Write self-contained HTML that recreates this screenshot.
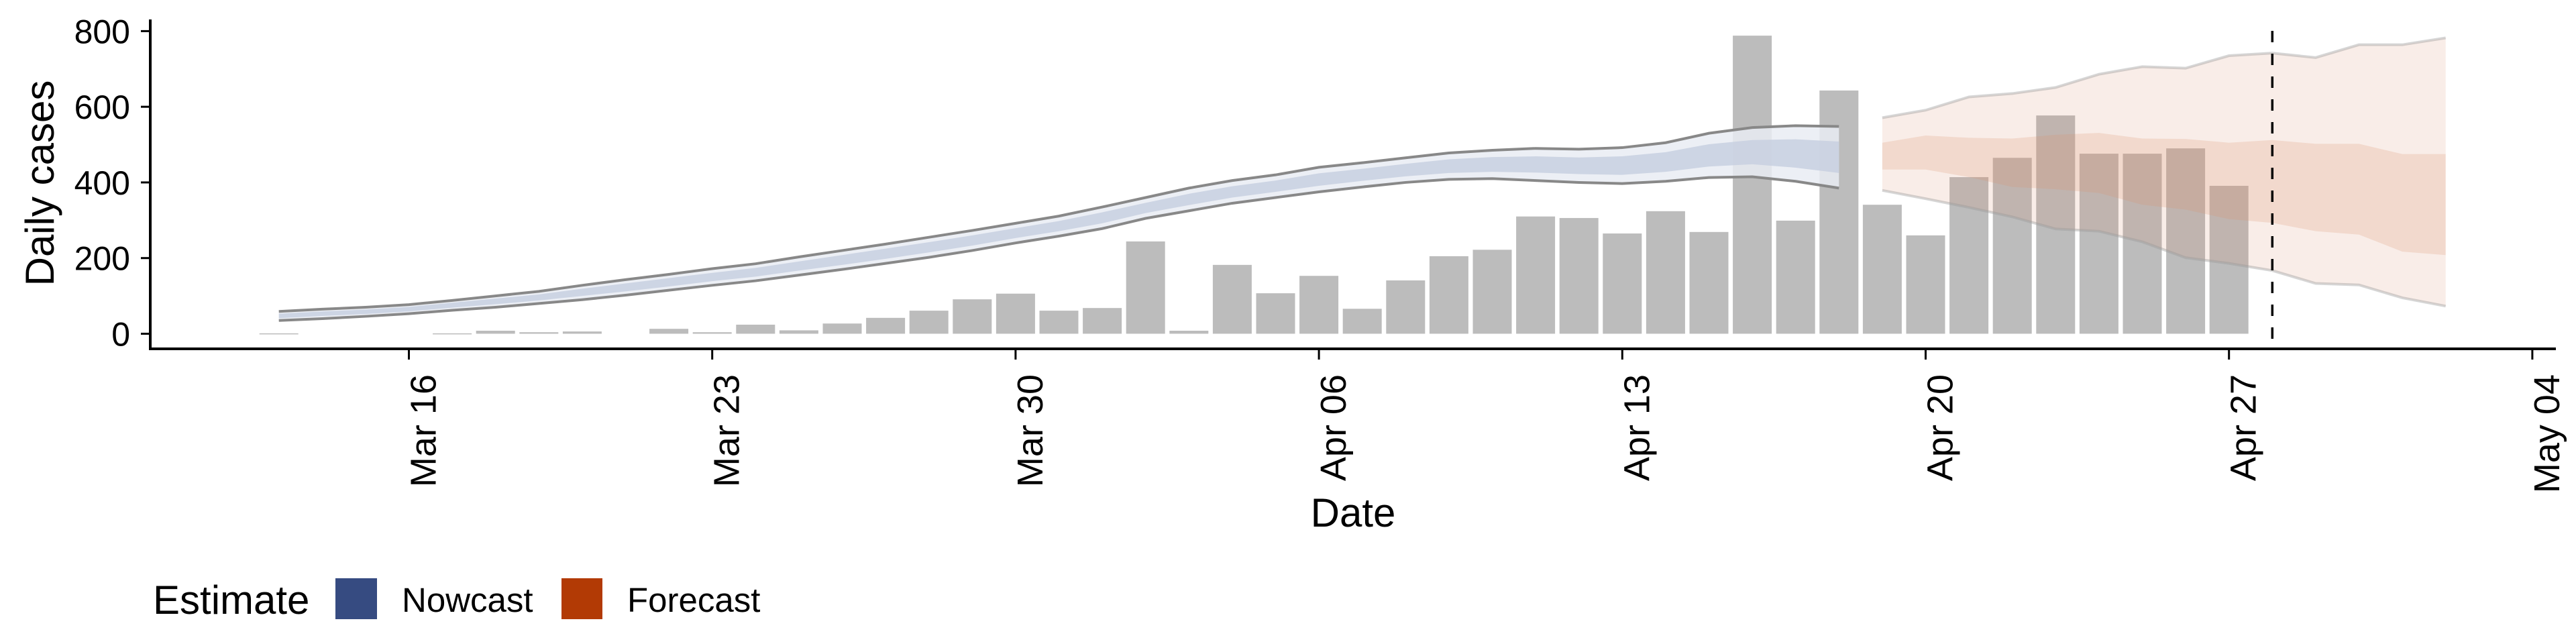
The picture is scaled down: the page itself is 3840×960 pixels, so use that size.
<!DOCTYPE html>
<html><head><meta charset="utf-8"><style>
html,body{margin:0;padding:0;background:#fff}
svg{display:block;font-family:"Liberation Sans",Arial,sans-serif}
</style></head><body>
<svg id="chart" width="3840" height="960" viewBox="0 0 3840 960" xmlns="http://www.w3.org/2000/svg">
<g id="bars"></g>
<g id="ribbons"></g>
<g id="axes"></g>
<text transform="translate(80,273) rotate(-90)" text-anchor="middle" font-size="60">Daily cases</text>
<text x="2017" y="785" text-anchor="middle" font-size="60">Date</text>
<g>
<text x="228" y="915" font-size="60">Estimate</text>
<rect x="500" y="862" width="62" height="61" fill="#364B81"/>
<text x="599" y="912" font-size="51">Nowcast</text>
<rect x="837" y="862" width="61" height="61" fill="#B23A05"/>
<text x="935" y="912" font-size="51">Forecast</text>
</g>
</svg>
<script>
// day offsets relative to Mar 16
const barDays = [-3,-2,-1,0,1,2,3,4,5,6,7,8,9,10,11,12,13,14,15,16,17,18,19,20,21,22,23,24,25,26,27,28,29,30,31,32,33,34,35,36,37,38,39,40,41,42];
const barValues = [1,0,0,0,1,8,4,6,0,13,4,24,9,27,42,61,91,106,61,68,244,8,182,107,153,66,141,205,222,310,306,265,324,269,788,299,643,341,260,414,465,577,476,476,490,391];
const nowDays = [-3,-2,-1,0,1,2,3,4,5,6,7,8,9,10,11,12,13,14,15,16,17,18,19,20,21,22,23,24,25,26,27,28,29,30,31,32,33];
const nowUpper = [59,65,70,77,88,100,112,128,143,157,172,185,203,220,237,255,273,292,311,335,360,385,405,420,440,452,465,478,485,490,488,492,505,530,545,550,548];
const nowLower = [35,40,46,53,62,70,80,90,102,115,128,140,155,170,186,202,220,240,258,278,305,325,345,360,375,388,400,408,410,405,400,397,403,413,415,403,385];
const nowInnerUpper = [53,59,64,71,82,93,104,119,133,147,161,174,191,208,225,242,260,279,298,321,346,370,390,405,424,436,449,461,467,469,466,469,480,501,512,514,508];
const nowInnerLower = [41,47,52,59,69,78,88,100,112,125,139,151,167,182,198,215,233,253,271,292,319,340,360,375,391,404,416,425,428,426,422,420,428,442,448,439,425];
const fcDays = [34,35,36,37,38,39,40,41,42,43,44,45,46,47];
const fcUpper = [571,591,626,635,651,686,706,702,735,742,730,764,764,782];
const fcInnerUpper = [505,524,518,516,526,531,516,515,505,512,502,502,475,475];
const fcInnerLower = [434,434,414,388,382,372,341,328,303,293,271,262,217,208];
const fcLower = [379,357,334,309,277,271,243,201,186,167,133,129,95,73];
const yTicks = [0,200,400,600,800];
const xTickDays = [0,7,14,21,28,35,42,49];
const xTickLabels = ["Mar 16","Mar 23","Mar 30","Apr 06","Apr 13","Apr 20","Apr 27","May 04"];
const forecastDateDay = 43;

const NS = "http://www.w3.org/2000/svg";
const X = d => 609.5 + 64.6 * d;
const Y = v => 497.5 - 0.5639 * v;
function mk(tag, attrs, parent){const e=document.createElementNS(NS,tag);for(const k in attrs)e.setAttribute(k,attrs[k]);parent.appendChild(e);return e;}
const gb=document.getElementById('bars'), gr=document.getElementById('ribbons'), ga=document.getElementById('axes');

barDays.forEach((d,i)=>{
  const v=barValues[i]; if(v<=0) return;
  const r=mk('rect',{x:X(d)-29,y:Y(v),width:58,height:Math.max(Y(0)-Y(v),1.5),fill:'#bcbcbc'},gb);
  
  
});

function band(days, up, lo){
  let s='M'+days.map((d,i)=>X(d)+','+Y(up[i])).join(' L');
  s+=' L'+days.map((d,i)=>X(d)+','+Y(lo[i])).reverse().join(' L')+' Z';
  return s;
}
function line(days, vals){return 'M'+days.map((d,i)=>X(d)+','+Y(vals[i])).join(' L');}

let p=mk('path',{d:band(nowDays,nowUpper,nowLower),fill:'#e9ecf3','fill-opacity':0.85},gr);


p=mk('path',{d:band(nowDays,nowInnerUpper,nowInnerLower),fill:'#c8d0e0','fill-opacity':0.85},gr);


p=mk('path',{d:line(nowDays,nowUpper),fill:'none',stroke:'#888','stroke-width':4},gr);


p=mk('path',{d:line(nowDays,nowLower),fill:'none',stroke:'#888','stroke-width':4},gr);



p=mk('path',{d:band(fcDays,fcUpper,fcLower),fill:'#d9906e','fill-opacity':0.16},gr);


p=mk('path',{d:band(fcDays,fcInnerUpper,fcInnerLower),fill:'#d9906e','fill-opacity':0.22},gr);


p=mk('path',{d:line(fcDays,fcUpper),fill:'none',stroke:'#999','stroke-opacity':0.4,'stroke-width':4},gr);


p=mk('path',{d:line(fcDays,fcLower),fill:'none',stroke:'#999','stroke-opacity':0.4,'stroke-width':4},gr);



p=mk('line',{x1:X(forecastDateDay),x2:X(forecastDateDay),y1:46,y2:520,stroke:'#000','stroke-width':3.5,'stroke-dasharray':'17,17'},ga);



p=mk('line',{x1:224,x2:224,y1:29,y2:521,stroke:'#000','stroke-width':4},ga);


p=mk('line',{x1:222,x2:3810,y1:520,y2:520,stroke:'#000','stroke-width':4},ga);



yTicks.forEach(v=>{
  let t=mk('line',{x1:210,x2:224,y1:Y(v),y2:Y(v),stroke:'#000','stroke-width':3},ga);
  
  
  let l=mk('text',{x:194,y:Y(v)+18,'text-anchor':'end','font-size':50},ga);
  
  
  l.textContent=v;
});
xTickDays.forEach((d,i)=>{
  let t=mk('line',{x1:X(d),x2:X(d),y1:520,y2:536,stroke:'#000','stroke-width':3},ga);
  
  
  let l=mk('text',{transform:'translate('+(X(d)+40)+',558) rotate(-90)','text-anchor':'end','font-size':54},ga);
  
  
  l.textContent=xTickLabels[i];
});
</script>
</body></html>
